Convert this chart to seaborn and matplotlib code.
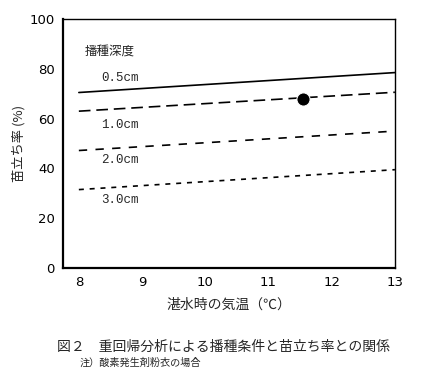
import matplotlib
matplotlib.use("Agg")
import matplotlib.pyplot as plt
import seaborn as sns
import pandas as pd

# temperature at flooding (°C) - regression lines drawn from 8 to 13
temps = [8, 13]
depths = ["0.5cm", "1.0cm", "2.0cm", "3.0cm"]
rate_05 = [70.5, 78.5]
rate_10 = [63.0, 70.6]
rate_20 = [47.2, 55.0]
rate_30 = [31.5, 39.5]
obs_temp = [11.55]
obs_rate = [67.9]

sns.set_theme(style="white")
plt.rcParams['font.family'] = ['Noto Sans CJK JP', 'DejaVu Sans']

rows = []
for d, vals in zip(depths, [rate_05, rate_10, rate_20, rate_30]):
    for t, v in zip(temps, vals):
        rows.append({"temp": t, "rate": v, "depth": d})
df = pd.DataFrame(rows)

fig = plt.figure(figsize=(4.26, 3.89), dpi=100)
ax = fig.add_axes([0.148, 0.311, 0.779, 0.640])

dash_map = {"0.5cm": "", "1.0cm": (7, 3.5), "2.0cm": (5, 5), "3.0cm": (3, 3.5)}
sns.lineplot(data=df, x="temp", y="rate", hue="depth", style="depth",
             dashes=dash_map, palette=["black"] * 4, linewidth=1.2,
             legend=False, ax=ax)
sns.scatterplot(x=obs_temp, y=obs_rate, color="black", s=90, zorder=5, ax=ax)

ax.set_xlim(7.75, 13)
ax.set_ylim(0, 100)
ax.set_xticks([8, 9, 10, 11, 12, 13])
ax.set_yticks([0, 20, 40, 60, 80, 100])
ax.tick_params(direction="in", length=4, width=1, colors="black", labelsize=9.5, pad=6)
for lbl in ax.get_xticklabels() + ax.get_yticklabels():
    lbl.set_family(['DejaVu Sans'])

for side in ["left", "bottom"]:
    ax.spines[side].set_linewidth(1.6)
for side in ["top", "right"]:
    ax.spines[side].set_linewidth(1.0)
for s in ax.spines.values():
    s.set_color("black")

ax.set_xlabel("湛水時の気温（℃）", fontsize=10, labelpad=6)
ax.set_ylabel("苗立ち率 (%)", fontsize=9.5, labelpad=3)

ax.text(8.1, 87, "播種深度", fontsize=9, ha="left", va="center")
label_y = [76.5, 57.5, 43.5, 27.5]
for d, y in zip(depths, label_y):
    ax.text(8.35, y, d, fontsize=9, ha="left", va="center",
            family=['Liberation Mono', 'DejaVu Sans Mono'])

fig.text(0.134, 0.108, "図２　重回帰分析による播種条件と苗立ち率との関係", fontsize=10, ha="left", va="center")
fig.text(0.188, 0.067, "注）酸素発生剤粉衣の場合", fontsize=7.3, ha="left", va="center")

fig.savefig("out.png", dpi=100)
